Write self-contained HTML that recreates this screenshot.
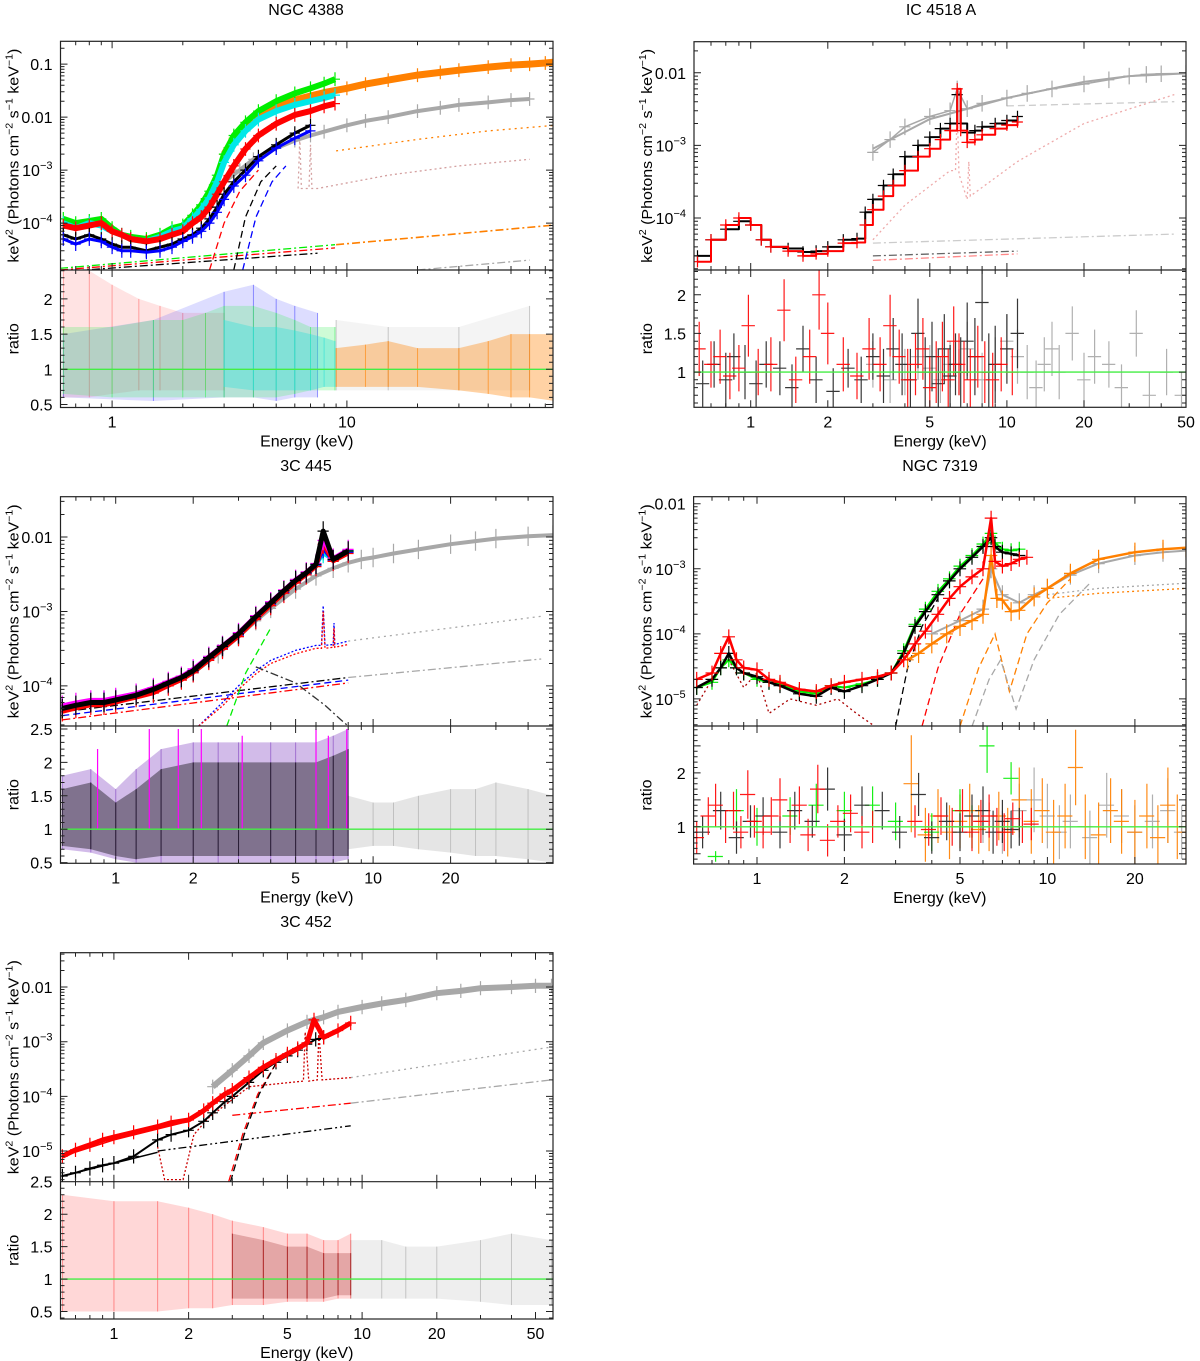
<!DOCTYPE html>
<html><head><meta charset="utf-8"><style>
html,body{margin:0;padding:0;background:#fff}
svg{display:block;font-family:"Liberation Sans",Arial,sans-serif}
</style></head><body>
<svg id="fig" width="1200" height="1361" viewBox="0 0 1200 1361" xmlns="http://www.w3.org/2000/svg">
<rect x="0" y="0" width="1200" height="1361" fill="#fff"/>
</svg>
<script>
// ===== NGC 4388 data =====
const n4388_E = [0.62,0.7,0.8,0.9,1.0,1.1,1.2,1.4,1.6,1.8,2.0,2.2,2.4,2.6,2.8,3.0,3.3,3.7,4.2,5,6,7,8,8.9];
const n4388_green = [1.2e-4,1e-4,1.1e-4,1.2e-4,8e-5,6e-5,5.5e-5,5e-5,6e-5,8e-5,9e-5,1.4e-4,2.2e-4,4e-4,8e-4,2e-3,4.5e-3,8e-3,1.3e-2,2e-2,2.8e-2,3.5e-2,4.3e-2,5.2e-2];
const n4388_cyan = [1e-4,8e-5,1e-4,9e-5,7e-5,6e-5,5e-5,4.5e-5,5.5e-5,7e-5,8e-5,1.2e-4,1.8e-4,3e-4,6e-4,1.4e-3,3e-3,5.5e-3,9e-3,1.3e-2,1.7e-2,2e-2,2.3e-2,2.6e-2];
const n4388_red = [9e-5,8e-5,9e-5,1e-4,7e-5,6e-5,5e-5,4.5e-5,5e-5,6e-5,7e-5,1e-4,1.3e-4,2e-4,3.5e-4,6e-4,1.2e-3,2.5e-3,4.5e-3,7.5e-3,1.1e-2,1.3e-2,1.6e-2,1.8e-2];
const n4388_black = [6e-5,5e-5,6e-5,5e-5,4e-5,3.5e-5,3.5e-5,3e-5,3.5e-5,4e-5,5e-5,6e-5,8e-5,1.2e-4,2e-4,3.5e-4,6e-4,1e-3,1.8e-3,3e-3,5e-3,7e-3];
const n4388_blue = [5e-5,4e-5,5e-5,4.5e-5,3.5e-5,3e-5,3e-5,2.8e-5,3e-5,3.5e-5,4.5e-5,5.5e-5,7e-5,1e-4,1.6e-4,2.8e-4,5e-4,8e-4,1.5e-3,2.6e-3,4e-3,5.5e-3];
const n4388_orE = [3,3.3,3.7,4.2,5,6,7,8,10,12,15,20,25,30,40,50,60,70,77];
const n4388_orF = [2e-3,4e-3,7e-3,1.1e-2,1.6e-2,2.1e-2,2.5e-2,2.9e-2,3.5e-2,4.2e-2,5e-2,6.2e-2,7e-2,7.7e-2,8.8e-2,9.6e-2,1.0e-1,1.05e-1,1.1e-1];
const n4388_grE = [3,3.5,4,5,6,7,8,10,12,15,20,25,30,40,50,60];
const n4388_grF = [6e-4,1e-3,1.6e-3,2.6e-3,3.6e-3,4.5e-3,5.3e-3,7e-3,8.5e-3,1e-2,1.3e-2,1.5e-2,1.7e-2,1.9e-2,2.1e-2,2.2e-2];
const n4388_mOrDotE = [9,20,40,77], n4388_mOrDotF = [2.3e-3,3.8e-3,5.5e-3,7e-3];
const n4388_mPkDotE = [6.2,6.3,6.4,6.5,6.9,7.0,7.1,7.5,15,30,60], n4388_mPkDotF = [4.5e-4,4e-3,4.5e-4,4.5e-4,4.5e-4,3e-3,4.5e-4,4.5e-4,8e-4,1.2e-3,1.6e-3];
const n4388_mOrDDE = [9,77], n4388_mOrDDF = [3.9e-5,9.2e-5];
const n4388_mGyDDE = [20,60], n4388_mGyDDF = [1.3e-5,2e-5];
const n4388_mRdDashE = [2.6,3,3.5,4.2], n4388_mRdDashF = [1.3e-5,1e-4,4e-4,1e-3];
const n4388_mBkDashE = [3.3,3.7,4.3,5], n4388_mBkDashF = [1.3e-5,1.3e-4,6e-4,1.2e-3];
const n4388_mBlDashE = [3.6,4.1,4.8,5.5], n4388_mBlDashF = [1.3e-5,1.3e-4,6e-4,1.2e-3];
const n4388_mGnDDE = [0.6,8.9], n4388_mGnDDF = [1.4e-5,3.9e-5];
const n4388_mRdDDE = [0.6,8.9], n4388_mRdDDF = [1.3e-5,3.4e-5];
const n4388_mBkDDE = [0.6,7.5], n4388_mBkDDF = [1.2e-5,2.7e-5];
const n4388_rRedE = [0.62,0.8,1.0,1.3,1.6,2.0,2.5,3.0], n4388_rRedHi = [2.4,2.4,2.2,2.0,1.9,1.8,1.8,1.8], n4388_rRedLo = [0.6,0.6,0.65,0.7,0.7,0.7,0.7,0.7];
const n4388_rGnE = [0.62,1,1.5,2,2.5,3,4,5,6,7,8.9], n4388_rGnHi = [1.6,1.6,1.7,1.7,1.8,1.9,1.9,1.8,1.7,1.6,1.6], n4388_rGnLo = [0.65,0.6,0.6,0.6,0.6,0.6,0.6,0.6,0.65,0.7,0.7];
const n4388_rBlE = [0.62,1.5,3,4,5,6,7.5], n4388_rBlHi = [1.5,1.7,2.1,2.2,2.0,1.9,1.8], n4388_rBlLo = [0.6,0.55,0.6,0.6,0.55,0.6,0.6];
const n4388_rCyE = [3,4,5,6,7,8,8.9], n4388_rCyHi = [1.7,1.6,1.6,1.55,1.5,1.45,1.4], n4388_rCyLo = [0.75,0.7,0.7,0.7,0.7,0.75,0.75];
const n4388_rOrE = [9,12,15,20,30,40,50,60,77], n4388_rOrHi = [1.3,1.35,1.4,1.3,1.3,1.4,1.5,1.5,1.5], n4388_rOrLo = [0.75,0.75,0.75,0.75,0.7,0.65,0.6,0.6,0.55];
const n4388_rGyE = [9,15,30,60], n4388_rGyHi = [1.7,1.6,1.6,1.9], n4388_rGyLo = [0.7,0.7,0.7,0.7];
const n4388_xTicks = [1,10], n4388_yTicks = [0.1,0.01,1e-3,1e-4], n4388_rTicks = [2,1.5,1,0.5];

// ===== IC 4518 A data =====
const ic_E = [0.62,0.7,0.8,0.9,1.0,1.1,1.2,1.4,1.6,1.8,2.0,2.3,2.6,2.8,3.0,3.3,3.6,4.0,4.5,5,5.5,6,6.4,6.6,7,7.5,8,9,10,11];
const ic_black = [3e-5,5e-5,7e-5,9e-5,8e-5,5e-5,4e-5,3.8e-5,3.4e-5,3.5e-5,4e-5,5e-5,5.2e-5,1.2e-4,1.8e-4,2.8e-4,4e-4,7e-4,1e-3,1.3e-3,1.7e-3,2e-3,5e-3,2e-3,1.5e-3,1.6e-3,1.8e-3,2e-3,2.2e-3,2.5e-3];
const ic_red = [2.5e-5,5e-5,8e-5,1e-4,8e-5,5e-5,4e-5,3.5e-5,3e-5,3.2e-5,3.5e-5,4.5e-5,4.6e-5,8e-5,1.3e-4,2e-4,2.8e-4,4.5e-4,7e-4,9e-4,1.2e-3,1.6e-3,6e-3,1.6e-3,1.1e-3,1.2e-3,1.4e-3,1.7e-3,1.9e-3,2.1e-3];
const ic_grE = [3,3.5,4,5,6,6.4,7,8,10,12,15,20,25,30,35,40,50];
const ic_grF = [8e-4,1.2e-3,1.8e-3,2.5e-3,3e-3,6e-3,3.2e-3,3.8e-3,4.5e-3,5.2e-3,6e-3,7e-3,8e-3,9e-3,9.5e-3,9.7e-3,9.8e-3];
const ic_mGyE = [3,5,10,20,30,50], ic_mGyF = [9e-4,2.3e-3,4.5e-3,7.5e-3,9e-3,9.8e-3];
const ic_mGyDashE = [10,45], ic_mGyDashF = [3.5e-3,4e-3];
const ic_mPkE = [3,4,6,6.3,6.4,6.5,7,7.1,7.2,11,20,45], ic_mPkF = [5e-5,1.5e-4,4.5e-4,4.5e-4,3e-3,4e-4,1.8e-4,6e-4,2e-4,6e-4,2e-3,5e-3];
const ic_mGyDDE = [3,45], ic_mGyDDF = [4.5e-5,6e-5];
const ic_mBkDDE = [3,11], ic_mBkDDF = [3e-5,3.5e-5];
const ic_mRdDDE = [3,11], ic_mRdDDF = [2.6e-5,3.2e-5];
const ic_rBkE = [0.65,0.72,0.8,0.86,0.95,1.05,1.15,1.3,1.45,1.6,1.8,2.1,2.4,2.7,3.0,3.3,3.6,3.9,4.2,4.5,4.8,5.1,5.4,5.7,6.0,6.3,6.6,7.0,7.5,8.0,8.5,9.0,10,11];
const ic_rBkR = [0.85,1.1,0.9,1.2,1.0,0.85,1.1,1.05,0.8,1.3,0.9,0.75,1.05,0.9,1.2,0.95,1.3,1.1,0.9,1.5,1.0,1.2,0.85,1.3,0.95,1.1,1.0,1.4,1.2,1.9,1.0,1.1,1.3,1.5];
const ic_rBkErr = [0.3,0.3,0.35,0.3,0.35,0.3,0.3,0.35,0.3,0.3,0.3,0.3,0.25,0.3,0.3,0.35,0.4,0.4,0.4,0.45,0.45,0.45,0.45,0.45,0.4,0.4,0.45,0.5,0.5,0.5,0.5,0.5,0.45,0.45];
const ic_rRdE = [0.63,0.7,0.76,0.83,0.9,0.98,1.07,1.2,1.35,1.5,1.7,1.85,2.0,2.3,2.6,2.9,3.2,3.5,3.8,4.1,4.4,4.7,5.0,5.3,5.6,5.9,6.2,6.5,6.8,7.2,7.7,8.2,8.8,9.5,10.5];
const ic_rRdR = [1.3,1.1,1.2,0.95,1.05,1.6,1.0,1.1,1.8,0.9,1.2,2.0,1.5,1.1,0.95,1.3,1.1,1.6,1.2,0.9,1.1,1.3,0.8,1.0,1.2,0.9,1.4,1.1,1.0,0.9,1.2,1.0,0.9,1.1,1.0];
const ic_rRdErr = [0.35,0.3,0.35,0.3,0.3,0.4,0.3,0.35,0.4,0.3,0.35,0.45,0.4,0.35,0.3,0.4,0.35,0.4,0.35,0.4,0.4,0.4,0.4,0.4,0.45,0.4,0.45,0.4,0.4,0.4,0.4,0.4,0.35,0.35,0.3];
const ic_rGyE = [3,3.5,4,4.5,5,5.5,6,6.5,7,8,9,10,11,12,13,14,15,16,18,20,22,25,28,32,36,42,48];
const ic_rGyR = [1.1,0.9,1.0,1.2,1.05,0.9,1.1,1.0,1.3,0.9,1.1,1.4,1.2,1.0,0.8,1.1,1.3,1.0,1.5,0.9,1.2,1.1,0.8,1.5,0.7,1.0,0.7];
const ic_rGyErr = [0.3,0.3,0.3,0.3,0.3,0.3,0.3,0.3,0.35,0.35,0.35,0.35,0.35,0.35,0.35,0.35,0.35,0.35,0.35,0.35,0.35,0.3,0.3,0.3,0.3,0.3,0.3];
const ic_xTicks = [1,2,5,10,20,50], ic_yTicks = [0.01,1e-3,1e-4], ic_rTicks = [2,1.5,1];

// ===== 3C 445 data =====
const c445_E = [0.62,0.7,0.8,0.9,1.0,1.2,1.4,1.6,1.8,2.0,2.3,2.6,3,3.5,4,4.5,5,5.5,6,6.4,7,8];
const c445_black = [5e-5,5.5e-5,6e-5,6e-5,6.5e-5,7.5e-5,9e-5,1.1e-4,1.3e-4,1.6e-4,2.4e-4,3.4e-4,5e-4,8.5e-4,1.3e-3,1.9e-3,2.6e-3,3.3e-3,4.3e-3,1.2e-2,5e-3,6.5e-3];
const c445_red = [4.5e-5,5e-5,5.5e-5,5.5e-5,6e-5,7e-5,8e-5,1e-4,1.2e-4,1.5e-4,2.2e-4,3.1e-4,4.6e-4,7.8e-4,1.2e-3,1.75e-3,2.4e-3,3.1e-3,4e-3,8e-3,4.7e-3,6e-3];
const c445_blue = [5e-5,5.2e-5,5.8e-5,6.2e-5,6.5e-5,7.2e-5,8.8e-5,1.05e-4,1.25e-4,1.55e-4,2.3e-4,3.2e-4,4.8e-4,8e-4,1.25e-3,1.8e-3,2.5e-3,3.2e-3,4.1e-3,7e-3,4.8e-3,6.2e-3];
const c445_magenta = [5.5e-5,6e-5,6.5e-5,6.5e-5,7e-5,8e-5,9.5e-5,1.15e-4,1.35e-4,1.7e-4,2.5e-4,3.5e-4,5.2e-4,8.8e-4,1.35e-3,1.95e-3,2.7e-3,3.4e-3,4.4e-3,9e-3,5.2e-3,6.8e-3];
const c445_cyan = [5.2e-5,5.6e-5,6.2e-5,6.4e-5,6.8e-5,7.8e-5,9.2e-5,1.1e-4,1.3e-4,1.65e-4,2.45e-4,3.4e-4,5.1e-4,8.6e-4,1.3e-3,1.9e-3,2.6e-3,3.3e-3,4.2e-3,6e-3,5e-3,6.6e-3];
const c445_green = [4.8e-5,5.4e-5,6e-5,6.1e-5,6.6e-5,7.6e-5,9e-5,1.08e-4,1.28e-4,1.6e-4,2.35e-4,3.3e-4,4.9e-4,8.3e-4,1.28e-3,1.85e-3,2.55e-3,3.25e-3,4.2e-3,6.5e-3,4.9e-3,6.4e-3];
const c445_grE = [2,2.5,3,3.5,4,5,6,7,8,9,10,12,15,20,25,30,40,50];
const c445_grF = [1.5e-4,2.7e-4,4.6e-4,7.5e-4,1.1e-3,2e-3,3e-3,3.8e-3,4.5e-3,5e-3,5.3e-3,6e-3,6.8e-3,8e-3,8.8e-3,9.5e-3,1.02e-2,1.06e-2];
const c445_mGyDotE = [8,45], c445_mGyDotF = [4e-4,8.6e-4];
const c445_mGyDDE = [8,45], c445_mGyDDF = [1.3e-4,2.3e-4];
const c445_mBkDDE = [0.62,8], c445_mBkDDF = [4.5e-5,1.3e-4];
const c445_mRdDDE = [0.62,8], c445_mRdDDF = [3.5e-5,1.1e-4];
const c445_mBlDashE = [0.62,8], c445_mBlDashF = [4e-5,1.2e-4];
const c445_mReflE = [2.1,2.6,3,3.5,4,5,6,6.3,6.4,6.5,7,7.05,7.1,8], c445_mReflF = [2.9e-5,6e-5,1e-4,1.6e-4,2.2e-4,3e-4,3.5e-4,3.5e-4,1.2e-3,3.5e-4,3.6e-4,7e-4,3.6e-4,4e-4];
const c445_mReflRdF = [2.9e-5,5.4e-5,9e-5,1.45e-4,2e-4,2.7e-4,3.2e-4,3.2e-4,1e-3,3.2e-4,3.3e-4,6e-4,3.3e-4,3.6e-4];
const c445_mDeclE = [3.5,5,6.5,7.5,8], c445_mDeclF = [1.8e-4,1.1e-4,5.5e-5,3.5e-5,2.9e-5];
const c445_mRiseE = [2.7,3.2,4], c445_mRiseF = [2.9e-5,1.5e-4,6e-4];
const c445_rColE = [0.62,0.8,1.0,1.2,1.5,2,2.5,3,4,5,6,7,8], c445_rColHi = [1.8,1.9,1.6,1.9,2.2,2.3,2.3,2.3,2.3,2.3,2.3,2.4,2.5], c445_rColLo = [0.7,0.65,0.55,0.5,0.5,0.5,0.5,0.5,0.5,0.5,0.5,0.5,0.55];
const c445_rBkE = [0.62,0.8,1.0,1.2,1.5,2,2.5,3,4,5,6,7,8], c445_rBkHi = [1.6,1.7,1.4,1.6,1.9,2.0,2.0,2.0,2.0,2.0,2.0,2.1,2.2], c445_rBkLo = [0.75,0.7,0.6,0.55,0.6,0.6,0.6,0.6,0.6,0.6,0.6,0.6,0.6];
const c445_rGyE = [8,10,12,15,20,25,30,40,50], c445_rGyHi = [1.5,1.4,1.4,1.5,1.6,1.6,1.7,1.6,1.5], c445_rGyLo = [0.7,0.75,0.75,0.7,0.65,0.6,0.6,0.55,0.5];
const c445_rSpikeE = [0.85,1.35,1.75,2.15,3.1,6,6.7,7.9], c445_rSpikeHi = [2.2,2.5,2.5,2.5,2.4,2.5,2.4,2.5];
const c445_xTicks = [1,2,5,10,20], c445_yTicks = [0.01,1e-3,1e-4], c445_rTicks = [2.5,2,1.5,1,0.5];

// ===== NGC 7319 data =====
const n7319_E = [0.62,0.7,0.75,0.8,0.85,0.9,1.0,1.1,1.2,1.4,1.6,1.8,2.0,2.3,2.6,2.9,3.2,3.5,3.8,4.2,4.6,5,5.5,6,6.4,6.6,7,7.5,8,8.5];
const n7319_red = [2e-5,2.5e-5,5e-5,9e-5,4e-5,3e-5,2.8e-5,2e-5,1.8e-5,1.4e-5,1.3e-5,1.6e-5,1.8e-5,2e-5,2.2e-5,2.5e-5,4e-5,7e-5,1.1e-4,2e-4,3.5e-4,5.3e-4,7.5e-4,1e-3,6e-3,1.3e-3,1.1e-3,1.2e-3,1.4e-3,1.5e-3];
const n7319_black = [1.5e-5,2e-5,3e-5,5e-5,3e-5,2.5e-5,2.2e-5,1.8e-5,1.6e-5,1.2e-5,1.1e-5,1.5e-5,1.3e-5,1.6e-5,2e-5,2.5e-5,5e-5,1.3e-4,2.2e-4,4e-4,6.5e-4,1e-3,1.5e-3,2.2e-3,3e-3,2.2e-3,1.8e-3,1.7e-3,1.6e-3];
const n7319_green = [1.5e-5,1.8e-5,3e-5,4e-5,3e-5,2.5e-5,2e-5,1.8e-5,1.7e-5,1.3e-5,1.2e-5,1.6e-5,1.5e-5,1.7e-5,2e-5,2.5e-5,5.5e-5,1.4e-4,2.4e-4,4.5e-4,7e-4,1.1e-3,1.6e-3,2.4e-3,3.5e-3,2.5e-3,2e-3,1.9e-3,2e-3];
const n7319_orE = [3.3,3.6,4,4.5,5,5.5,6,6.4,6.7,7,7.5,8,9,10,12,15,20,25,30];
const n7319_orF = [4e-5,5e-5,7e-5,1e-4,1.3e-4,1.6e-4,2e-4,1.6e-3,3.5e-4,3.3e-4,2.2e-4,2.3e-4,3.7e-4,5e-4,8.5e-4,1.4e-3,1.8e-3,2e-3,2.1e-3];
const n7319_grE = [4,5,6,6.4,7,8,9,10,12,15,20,25,30];
const n7319_grF = [1e-4,1.6e-4,2.4e-4,1e-3,4e-4,3e-4,4e-4,5e-4,8e-4,1.2e-3,1.6e-3,1.8e-3,1.9e-3];
const n7319_mBkDashE = [3,3.3,3.7,4.2], n7319_mBkDashF = [3.8e-6,3e-5,1.3e-4,3.5e-4];
const n7319_mRdDashE = [3.7,4.2,5,6], n7319_mRdDashF = [3.8e-6,3e-5,2e-4,7e-4];
const n7319_mOrDashE = [5,5.8,6.6,7.4,8.5,10,12], n7319_mOrDashF = [3.8e-6,3e-5,1e-4,1.3e-5,1e-4,3e-4,7e-4];
const n7319_mGyDashE = [5.5,6.3,6.9,7.8,9,11,14], n7319_mGyDashF = [3.8e-6,2e-5,4e-5,7e-6,4e-5,2e-4,6e-4];
const n7319_mOrDotE = [10,15,30], n7319_mOrDotF = [3.5e-4,4.2e-4,5e-4];
const n7319_mGyDotE = [10,15,30], n7319_mGyDotF = [4e-4,5e-4,6e-4];
const n7319_mSoftE = [0.62,0.7,0.8,0.9,1.0,1.1,1.3,1.6,1.9,2.2,2.5], n7319_mSoftF = [8e-6,2e-5,4e-5,1.5e-5,2.5e-5,6e-6,1e-5,8e-6,1e-5,6e-6,4e-6];
const n7319_rRdE = [0.62,0.68,0.72,0.78,0.83,0.88,0.93,0.98,1.05,1.12,1.2,1.3,1.4,1.5,1.62,1.75,1.9,2.1,2.3,2.5,3.5,3.9,4.3,4.7,5.1,5.5,5.9,6.3,6.7,7.1,7.6,8.2,8.8];
const n7319_rRdR = [0.8,1.2,1.4,1.0,1.3,0.9,1.6,1.1,0.9,1.2,1.5,1.0,1.4,0.85,1.7,0.75,1.1,1.25,0.9,1.0,1.1,0.95,1.2,1.0,1.3,0.9,1.1,1.2,1.0,0.9,1.15,1.0,1.05];
const n7319_rRdErr = [0.3,0.35,0.4,0.3,0.35,0.3,0.45,0.3,0.3,0.35,0.4,0.3,0.35,0.3,0.45,0.3,0.3,0.35,0.3,0.3,0.3,0.3,0.35,0.35,0.4,0.35,0.4,0.4,0.35,0.35,0.3,0.3,0.3];
const n7319_rBkE = [0.65,0.75,0.85,0.95,1.05,1.2,1.35,1.55,1.75,2.0,2.3,2.7,3.1,3.6,4.0,4.5,5,5.5,6,6.5,7,7.5,8];
const n7319_rBkR = [0.9,1.3,0.8,1.1,1.2,0.9,1.3,1.1,1.7,0.85,1.4,1.3,0.9,1.6,0.8,1.1,0.9,1.2,1.3,0.9,1.1,0.95,1.0];
const n7319_rBkErr = [0.3,0.35,0.3,0.3,0.35,0.3,0.35,0.3,0.4,0.3,0.35,0.35,0.3,0.4,0.3,0.35,0.35,0.4,0.45,0.4,0.4,0.35,0.35];
const n7319_rGnE = [0.72,0.85,1.0,1.3,1.6,2.0,2.5,3.0,4,5,5.5,6.2,7.5];
const n7319_rGnR = [0.45,1.3,1.0,1.2,1.4,1.3,1.4,1.1,0.9,1.3,1.0,2.5,1.9];
const n7319_rGnErr = [0.1,0.4,0.35,0.35,0.4,0.35,0.35,0.35,0.35,0.4,0.4,0.5,0.3];
const n7319_rOrE = [3.4,3.8,4.2,4.6,5,5.4,5.8,6.3,6.8,7.3,8,8.8,9.6,10.5,11.5,12.5,13.5,15,16.5,18,20,22,24,26,28,30];
const n7319_rOrR = [1.8,0.85,1.2,0.9,1.1,1.3,0.95,1.0,1.2,0.9,1.5,1.1,1.3,0.9,1.2,2.1,1.0,0.85,1.3,1.1,0.9,1.2,0.8,1.4,1.0,0.9];
const n7319_rOrErr = [0.9,0.5,0.5,0.5,0.5,0.5,0.45,0.45,0.45,0.45,0.6,0.6,0.6,0.6,0.6,0.7,0.6,0.6,0.6,0.6,0.6,0.6,0.6,0.7,0.6,0.6];
const n7319_rGyE = [6,7,8,9,10,11,12,14,16,18,20,23,26,29];
const n7319_rGyR = [1.1,0.9,1.3,1.5,1.2,0.9,1.1,0.8,1.4,1.2,0.9,1.1,1.3,0.9];
const n7319_rGyErr = [0.4,0.4,0.5,0.6,0.6,0.5,0.5,0.5,0.6,0.5,0.5,0.5,0.6,0.5];
const n7319_xTicks = [1,2,5,10,20], n7319_yTicks = [0.01,1e-3,1e-4,1e-5], n7319_rTicks = [2,1];

// ===== 3C 452 data =====
const c452_rdE = [0.62,0.7,0.8,0.9,1.0,1.2,1.5,1.7,2.0,2.3,2.5,2.8,3,3.5,4,4.5,5,5.5,6,6.4,7,8,9];
const c452_rdF = [8e-6,1.05e-5,1.3e-5,1.6e-5,1.8e-5,2.2e-5,2.8e-5,3.3e-5,3.7e-5,5.5e-5,7.5e-5,1.1e-4,1.3e-4,2.2e-4,3.4e-4,4.6e-4,6e-4,7.5e-4,9.5e-4,2.5e-3,1.2e-3,1.6e-3,2.2e-3];
const c452_bkE = [0.62,0.7,0.8,0.9,1.0,1.2,1.5,1.7,2.0,2.3,2.5,2.8,3,3.5,4,4.5,5,5.5,6,6.5,7];
const c452_bkF = [3.5e-6,4e-6,4.8e-6,5.5e-6,6e-6,8e-6,1.6e-5,2e-5,2.4e-5,3.5e-5,5e-5,8e-5,1e-4,1.8e-4,3e-4,4.2e-4,5.5e-4,7e-4,9e-4,1.1e-3,1.2e-3];
const c452_grE = [2.5,3,3.5,4,5,6,7,8,10,12,15,20,25,30,40,50,58];
const c452_grF = [1.5e-4,3e-4,5.5e-4,9.5e-4,1.6e-3,2.3e-3,2.8e-3,3.5e-3,4.3e-3,5e-3,5.8e-3,7.7e-3,8.5e-3,9.5e-3,1e-2,1.05e-2,1.05e-2];
const c452_mGyDotE = [9,58], c452_mGyDotF = [2.2e-4,8e-4];
const c452_mRdDotE = [1.5,1.6,1.9,2.1,2.4,3.5,5.8,5.9,6.1,6.6,6.7,6.9,9], c452_mRdDotF = [1.2e-5,3e-6,3e-6,2e-5,4e-5,1.5e-4,1.9e-4,1.5e-3,1.9e-4,2e-4,1.5e-3,2e-4,2.2e-4];
const c452_mGyDDE = [9,58], c452_mGyDDF = [7.5e-5,2e-4];
const c452_mRdDDE = [3,9], c452_mRdDDF = [4.5e-5,7.5e-5];
const c452_mBkDDE = [1.5,9], c452_mBkDDF = [1e-5,2.9e-5];
const c452_mRdDashE = [2.9,3.3,3.8,4.5], c452_mRdDashF = [2.75e-6,2e-5,1.1e-4,4e-4];
const c452_mBkDashE = [2.95,3.35,3.85,4.5], c452_mBkDashF = [2.75e-6,2e-5,1.1e-4,4e-4];
const c452_mBkLowE = [0.62,1,1.5], c452_mBkLowF = [3.5e-6,6e-6,9.5e-6];
const c452_mRdLowE = [0.62,1,2,3], c452_mRdLowF = [8e-6,1.6e-5,3.5e-5,1.3e-4];
const c452_rRdE = [0.62,1,1.5,2,2.5,3,4,5,6,7,8,9], c452_rRdHi = [2.3,2.2,2.2,2.1,2.0,1.9,1.8,1.7,1.7,1.6,1.6,1.7], c452_rRdLo = [0.5,0.5,0.5,0.55,0.55,0.6,0.6,0.65,0.65,0.65,0.7,0.7];
const c452_rBkE = [3,4,5,6,7,8,9], c452_rBkHi = [1.7,1.6,1.5,1.5,1.4,1.4,1.4], c452_rBkLo = [0.7,0.7,0.7,0.7,0.7,0.75,0.75];
const c452_rGyE = [9,12,15,20,30,40,58], c452_rGyHi = [1.6,1.6,1.5,1.5,1.6,1.7,1.6], c452_rGyLo = [0.7,0.7,0.7,0.7,0.65,0.6,0.6];
const c452_xTicks = [1,2,5,10,20,50], c452_yTicks = [0.01,1e-3,1e-4,1e-5], c452_rTicks = [2.5,2,1.5,1,0.5];

// ===== rendering =====
const NS = 'http://www.w3.org/2000/svg';
const svg = document.getElementById('fig');
function el(tag, attrs, parent) {
  const e = document.createElementNS(NS, tag);
  for (const k in attrs) e.setAttribute(k, attrs[k]);
  parent.appendChild(e);
  return e;
}
const C = {green:'#00ee00', cyan:'#00e8e8', red:'#ff0000', blue:'#0000ff', black:'#000000', orange:'#ff8000', gray:'#a8a8a8', magenta:'#ff00ff', pink:'#d4a0a0'};
let clipId = 0;

function panel(cfg) {
  const g = el('g', {}, svg);
  
  
  const lx0 = Math.log10(cfg.xmin), lx1 = Math.log10(cfg.xmax);
  const ly0 = Math.log10(cfg.ymin), ly1 = Math.log10(cfg.ymax);
  const xs = e => cfg.L + (Math.log10(e) - lx0) / (lx1 - lx0) * (cfg.R - cfg.L);
  const ys = f => cfg.M - (Math.log10(f) - ly0) / (ly1 - ly0) * (cfg.M - cfg.T);
  const rs = r => cfg.B - (r - cfg.rmin) / (cfg.rmax - cfg.rmin) * (cfg.B - cfg.M);
  const defs = el('defs', {}, g);
  const c1 = 'c' + (clipId++), c2 = 'c' + (clipId++);
  el('rect', {x:cfg.L, y:cfg.T, width:cfg.R-cfg.L, height:cfg.M-cfg.T}, el('clipPath', {id:c1}, defs));
  el('rect', {x:cfg.L, y:cfg.M, width:cfg.R-cfg.L, height:cfg.B-cfg.M}, el('clipPath', {id:c2}, defs));
  const top = el('g', {'clip-path':'url(#'+c1+')'}, g);
  
  
  const bot = el('g', {'clip-path':'url(#'+c2+')'}, g);
  
  

  (cfg.models || []).forEach(m => {
    const pts = m.E.map((e, i) => xs(e).toFixed(1) + ',' + ys(m.F[i]).toFixed(1)).join(' ');
    const p = el('polyline', {points:pts, fill:'none', stroke:m.color, 'stroke-width':m.w || 1.3, 'stroke-dasharray':m.dash || 'none', opacity:m.op || 1}, top);
    
    
  });
  (cfg.spectra || []).forEach(s => {
    const n = s.F.length;
    const sg = el('g', {stroke:s.color, fill:'none', opacity:s.op || 1}, top);
    
    
    let pts = '';
    for (let i = 0; i < n; i++) {
      const x = xs(s.E[i]), y = ys(s.F[i]);
      if (s.step && i > 0) pts += ' ' + x.toFixed(1) + ',' + ys(s.F[i-1]).toFixed(1);
      pts += ' ' + x.toFixed(1) + ',' + y.toFixed(1);
    }
    const pl = el('polyline', {points:pts.trim(), 'stroke-width':s.w || 2, 'stroke-linejoin':'round'}, sg);
    
    
    for (let i = 0; i < n; i++) {
      const e = s.E[i], f = s.F[i], x = xs(e), y = ys(f);
      const d = 'M' + xs(e*0.95).toFixed(1) + ' ' + y.toFixed(1) + 'H' + xs(e*1.05).toFixed(1) +
        'M' + x.toFixed(1) + ' ' + ys(f*(s.ev || 1.35)).toFixed(1) + 'V' + ys(f/(s.ev || 1.35)).toFixed(1);
      const p = el('path', {d:d, 'stroke-width':1.2}, sg);
      
      
    }
  });
  (cfg.bands || []).forEach(b => {
    const up = b.E.map((e, i) => xs(e).toFixed(1) + ',' + rs(b.hi[i]).toFixed(1));
    const dn = b.E.map((e, i) => xs(e).toFixed(1) + ',' + rs(b.lo[i]).toFixed(1)).reverse();
    const pg = el('polygon', {points:up.concat(dn).join(' '), fill:b.color, 'fill-opacity':b.op * 0.65, stroke:'none'}, bot);
    
    
    b.E.forEach((e, i) => {
      const l = el('line', {x1:xs(e), x2:xs(e), y1:rs(b.hi[i]), y2:rs(b.lo[i]), stroke:b.color, 'stroke-width':1, opacity:0.6}, bot);
      
      
    });
  });
  (cfg.spikes || []).forEach(sp => {
    sp.E.forEach((e, i) => {
      const l = el('line', {x1:xs(e), x2:xs(e), y1:rs(sp.hi[i]), y2:rs(1), stroke:sp.color, 'stroke-width':1.2}, bot);
      
      
    });
  });
  (cfg.rpts || []).forEach(r => {
    const rg = el('g', {stroke:r.color, 'stroke-width':1.2, opacity:r.op || 0.9}, bot);
    
    
    r.E.forEach((e, i) => {
      const x = xs(e), y = rs(r.R[i]);
      const d = 'M' + xs(e*0.94).toFixed(1) + ' ' + y.toFixed(1) + 'H' + xs(e*1.06).toFixed(1) +
        'M' + x.toFixed(1) + ' ' + rs(r.R[i] + r.Err[i]).toFixed(1) + 'V' + rs(r.R[i] - r.Err[i]).toFixed(1);
      const p = el('path', {d:d}, rg);
      
      
    });
  });
  const ul = el('line', {x1:cfg.L, x2:cfg.R, y1:rs(1), y2:rs(1), stroke:'#44ee44', 'stroke-width':1.4}, g);
  
  

  const fr = el('g', {fill:'none', stroke:'#222', 'stroke-width':1.2}, g);
  
  
  el('rect', {x:cfg.L, y:cfg.T, width:cfg.R-cfg.L, height:cfg.B-cfg.T}, fr);
  el('line', {x1:cfg.L, x2:cfg.R, y1:cfg.M, y2:cfg.M}, fr);

  let td = '';
  for (let d = Math.floor(lx0); d <= Math.ceil(lx1); d++) {
    for (let k = 1; k <= 9; k++) {
      const e = k * Math.pow(10, d);
      if (e < cfg.xmin || e > cfg.xmax) continue;
      const x = xs(e).toFixed(1), len = (k === 1 || cfg.xTicks.indexOf(e) >= 0) ? 7 : 4;
      td += 'M'+x+' '+cfg.T+'v'+len+'M'+x+' '+cfg.M+'v-'+len+'M'+x+' '+cfg.M+'v'+len+'M'+x+' '+cfg.B+'v-'+len;
    }
  }
  for (let d = Math.floor(ly0); d <= Math.ceil(ly1); d++) {
    for (let k = 1; k <= 9; k++) {
      const f = k * Math.pow(10, d);
      if (f < cfg.ymin || f > cfg.ymax) continue;
      const y = ys(f).toFixed(1), len = k === 1 ? 7 : 4;
      td += 'M'+cfg.L+' '+y+'h'+len+'M'+cfg.R+' '+y+'h-'+len;
    }
  }
  for (let r = Math.ceil(cfg.rmin*10)/10; r <= cfg.rmax; r += 0.1) {
    const rr = Math.round(r*10)/10;
    const y = rs(rr).toFixed(1), len = (Math.abs(rr*2 - Math.round(rr*2)) < 1e-6) ? 7 : 4;
    td += 'M'+cfg.L+' '+y+'h'+len+'M'+cfg.R+' '+y+'h-'+len;
  }
  const tp = el('path', {d:td, stroke:'#222', 'stroke-width':1, fill:'none'}, g);
  
  

  const txt = (x, y, s, opts, name) => {
    const t = el('text', Object.assign({x:x, y:y, 'font-size':16, fill:'#000'}, opts || {}), g);
    t.textContent = s;
    
    
    return t;
  };
  cfg.xTicks.forEach(v => txt(xs(v), cfg.B + 20, String(v), {'text-anchor':'middle'}, 'x-tick-label'));
  cfg.yTicks.forEach(v => {
    const t = txt(cfg.L - 8, ys(v) + 6, '', {'text-anchor':'end'}, 'y-tick-label');
    if (v >= 0.01) { t.textContent = String(v); }
    else {
      const exp = Math.round(Math.log10(v));
      const a = el('tspan', {}, t); a.textContent = '10';
      const b = el('tspan', {dy:-7, 'font-size':11}, t); b.textContent = '\u2212' + (-exp);
    }
  });
  cfg.rTicks.forEach(v => txt(cfg.L - 8, rs(v) + 6, String(v), {'text-anchor':'end'}, 'ratio-tick-label'));
  txt((cfg.L + cfg.R) / 2, cfg.B + 39, 'Energy (keV)', {'text-anchor':'middle'}, 'x-axis-title');
  txt(cfg.titleX, cfg.titleY, cfg.title, {'text-anchor':'middle'}, 'panel-title');
  const yc = (cfg.T + cfg.M) / 2, yx = cfg.L - 42;
  const tl = 214;
  const yt = el('text', {x:yx - tl/2, y:yc, 'font-size':15, 'text-anchor':'start', textLength:tl, lengthAdjust:'spacingAndGlyphs', transform:'rotate(-90 '+yx+' '+yc+')'}, g);
  yt.setAttribute('x', yx - tl/2);
  
  
  const parts = [['keV',0],['2',1],[' (Photons cm',0],['\u22122',1],[' s',0],['\u22121',1],[' keV',0],['\u22121',1],[')',0]];
  let up = false;
  parts.forEach(p => {
    const attrs = {};
    if (p[1] && !up) { attrs.dy = -6; up = true; }
    else if (!p[1] && up) { attrs.dy = 6; up = false; }
    if (p[1]) attrs['font-size'] = 10;
    const ts = el('tspan', attrs, yt);
    ts.textContent = p[0];
  });
  const rc = (cfg.M + cfg.B) / 2;
  const rt = el('text', {x:yx, y:rc, 'font-size':16, 'text-anchor':'middle', transform:'rotate(-90 '+yx+' '+rc+')'}, g);
  rt.textContent = 'ratio';
  
  
}

panel({name:'panel-ngc4388', title:'NGC 4388', titleX:306, titleY:15,
  L:60.5, R:553, T:41.3, M:270, B:407.5, xmin:0.603, xmax:75.5, ymin:1.3e-5, ymax:0.27, rmin:0.457, rmax:2.41,
  xTicks:n4388_xTicks, yTicks:n4388_yTicks, rTicks:n4388_rTicks,
  models:[
    {E:n4388_mGnDDE, F:n4388_mGnDDF, color:C.green, dash:'8 3 2 3'},
    {E:n4388_mRdDDE, F:n4388_mRdDDF, color:C.red, dash:'8 3 2 3'},
    {E:n4388_mBkDDE, F:n4388_mBkDDF, color:C.black, dash:'8 3 2 3'},
    {E:n4388_mOrDDE, F:n4388_mOrDDF, color:C.orange, dash:'8 3 2 3', w:1.6},
    {E:n4388_mGyDDE, F:n4388_mGyDDF, color:C.gray, dash:'8 3 2 3'},
    {E:n4388_mRdDashE, F:n4388_mRdDashF, color:C.red, dash:'7 4'},
    {E:n4388_mBkDashE, F:n4388_mBkDashF, color:C.black, dash:'7 4'},
    {E:n4388_mBlDashE, F:n4388_mBlDashF, color:C.blue, dash:'7 4'},
    {E:n4388_mOrDotE, F:n4388_mOrDotF, color:C.orange, dash:'2 4'},
    {E:n4388_mPkDotE, F:n4388_mPkDotF, color:C.pink, dash:'2 3'}
  ],
  spectra:[
    {name:'gray-spectrum', E:n4388_grE, F:n4388_grF, color:C.gray, w:4},
    {name:'orange-spectrum', E:n4388_orE, F:n4388_orF, color:C.orange, w:7},
    {name:'green-spectrum', E:n4388_E, F:n4388_green, color:C.green, w:6},
    {name:'cyan-spectrum', E:n4388_E, F:n4388_cyan, color:C.cyan, w:6},
    {name:'red-spectrum', E:n4388_E, F:n4388_red, color:C.red, w:6},
    {name:'black-spectrum', E:n4388_E, F:n4388_black, color:C.black, w:3},
    {name:'blue-spectrum', E:n4388_E, F:n4388_blue, color:C.blue, w:3}
  ],
  bands:[
    {E:n4388_rGyE, hi:n4388_rGyHi, lo:n4388_rGyLo, color:C.gray, op:0.2},
    {E:n4388_rRedE, hi:n4388_rRedHi, lo:n4388_rRedLo, color:'#ff7070', op:0.3},
    {E:n4388_rBlE, hi:n4388_rBlHi, lo:n4388_rBlLo, color:'#5050ff', op:0.3},
    {E:n4388_rGnE, hi:n4388_rGnHi, lo:n4388_rGnLo, color:'#40ee60', op:0.4},
    {E:n4388_rCyE, hi:n4388_rCyHi, lo:n4388_rCyLo, color:'#30e0d8', op:0.6},
    {E:n4388_rOrE, hi:n4388_rOrHi, lo:n4388_rOrLo, color:C.orange, op:0.55}
  ]
});

panel({name:'panel-ic4518a', title:'IC 4518 A', titleX:941, titleY:15,
  L:694, R:1186, T:41.7, M:270, B:407.3, xmin:0.601, xmax:50, ymin:1.92e-5, ymax:0.0268, rmin:0.545, rmax:2.32,
  xTicks:ic_xTicks, yTicks:ic_yTicks, rTicks:ic_rTicks,
  models:[
    {E:ic_mGyDDE, F:ic_mGyDDF, color:'#ccc', dash:'8 3 2 3'},
    {E:ic_mBkDDE, F:ic_mBkDDF, color:'#666', dash:'8 3 2 3'},
    {E:ic_mRdDDE, F:ic_mRdDDF, color:'#f88', dash:'8 3 2 3'},
    {E:ic_mPkE, F:ic_mPkF, color:'#eaa', dash:'2 3'},
    {E:ic_mGyDashE, F:ic_mGyDashF, color:'#ccc', dash:'7 4'},
    {E:ic_mGyE, F:ic_mGyF, color:C.gray, w:2}
  ],
  spectra:[
    {name:'gray-spectrum', E:ic_grE, F:ic_grF, color:C.gray, w:1.5, ev:1.3},
    {name:'black-spectrum', E:ic_E, F:ic_black, color:C.black, w:2, step:true, ev:1.2},
    {name:'red-spectrum', E:ic_E, F:ic_red, color:C.red, w:2, step:true, ev:1.2}
  ],
  rpts:[
    {name:'gray-ratio', E:ic_rGyE, R:ic_rGyR, Err:ic_rGyErr, color:C.gray},
    {name:'black-ratio', E:ic_rBkE, R:ic_rBkR, Err:ic_rBkErr, color:'#222'},
    {name:'red-ratio', E:ic_rRdE, R:ic_rRdR, Err:ic_rRdErr, color:C.red}
  ]
});

panel({name:'panel-3c445', title:'3C 445', titleX:306, titleY:471,
  L:60.5, R:553, T:496.7, M:726, B:863.3, xmin:0.61, xmax:50, ymin:2.9e-5, ymax:0.0347, rmin:0.49, rmax:2.545,
  xTicks:c445_xTicks, yTicks:c445_yTicks, rTicks:c445_rTicks,
  models:[
    {E:c445_mGyDotE, F:c445_mGyDotF, color:C.gray, dash:'2 4'},
    {E:c445_mGyDDE, F:c445_mGyDDF, color:C.gray, dash:'8 3 2 3'},
    {E:c445_mBkDDE, F:c445_mBkDDF, color:C.black, dash:'8 3 2 3'},
    {E:c445_mRdDDE, F:c445_mRdDDF, color:C.red, dash:'8 3 2 3'},
    {E:c445_mBlDashE, F:c445_mBlDashF, color:C.blue, dash:'7 4'},
    {E:c445_mReflE, F:c445_mReflF, color:C.blue, dash:'2 2'},
    {E:c445_mReflE, F:c445_mReflRdF, color:C.red, dash:'2 2'},
    {E:c445_mDeclE, F:c445_mDeclF, color:'#333', dash:'8 3 2 3'},
    {E:c445_mRiseE, F:c445_mRiseF, color:C.green, dash:'7 4'}
  ],
  spectra:[
    {name:'gray-spectrum', E:c445_grE, F:c445_grF, color:C.gray, w:4},
    {name:'green-spectrum', E:c445_E, F:c445_green, color:C.green, w:4},
    {name:'cyan-spectrum', E:c445_E, F:c445_cyan, color:C.cyan, w:4},
    {name:'blue-spectrum', E:c445_E, F:c445_blue, color:C.blue, w:4},
    {name:'red-spectrum', E:c445_E, F:c445_red, color:C.red, w:4},
    {name:'magenta-spectrum', E:c445_E, F:c445_magenta, color:C.magenta, w:4},
    {name:'black-spectrum', E:c445_E, F:c445_black, color:C.black, w:5}
  ],
  bands:[
    {E:c445_rGyE, hi:c445_rGyHi, lo:c445_rGyLo, color:C.gray, op:0.45},
    {E:c445_rColE, hi:c445_rColHi, lo:c445_rColLo, color:'#8040c0', op:0.55},
    {E:c445_rBkE, hi:c445_rBkHi, lo:c445_rBkLo, color:'#000', op:0.6}
  ],
  spikes:[{E:c445_rSpikeE, hi:c445_rSpikeHi, color:C.magenta}]
});

panel({name:'panel-ngc7319', title:'NGC 7319', titleX:940, titleY:471,
  L:693.6, R:1186, T:496.7, M:726, B:864, xmin:0.605, xmax:30, ymin:3.84e-6, ymax:0.0128, rmin:0.31, rmax:2.87,
  xTicks:n7319_xTicks, yTicks:n7319_yTicks, rTicks:n7319_rTicks,
  models:[
    {E:n7319_mSoftE, F:n7319_mSoftF, color:'#a00', dash:'2 3'},
    {E:n7319_mBkDashE, F:n7319_mBkDashF, color:C.black, dash:'7 4'},
    {E:n7319_mRdDashE, F:n7319_mRdDashF, color:C.red, dash:'7 4'},
    {E:n7319_mOrDashE, F:n7319_mOrDashF, color:C.orange, dash:'7 4'},
    {E:n7319_mGyDashE, F:n7319_mGyDashF, color:C.gray, dash:'7 4'},
    {E:n7319_mOrDotE, F:n7319_mOrDotF, color:C.orange, dash:'2 3'},
    {E:n7319_mGyDotE, F:n7319_mGyDotF, color:C.gray, dash:'2 3'}
  ],
  spectra:[
    {name:'gray-spectrum', E:n7319_grE, F:n7319_grF, color:C.gray, w:2, ev:1.4},
    {name:'orange-spectrum', E:n7319_orE, F:n7319_orF, color:C.orange, w:2.5, ev:1.4},
    {name:'green-spectrum', E:n7319_E, F:n7319_green, color:C.green, w:2, ev:1.3},
    {name:'black-spectrum', E:n7319_E, F:n7319_black, color:C.black, w:2.5, ev:1.3},
    {name:'red-spectrum', E:n7319_E, F:n7319_red, color:C.red, w:2.5, ev:1.3}
  ],
  rpts:[
    {name:'gray-ratio', E:n7319_rGyE, R:n7319_rGyR, Err:n7319_rGyErr, color:C.gray},
    {name:'orange-ratio', E:n7319_rOrE, R:n7319_rOrR, Err:n7319_rOrErr, color:C.orange},
    {name:'green-ratio', E:n7319_rGnE, R:n7319_rGnR, Err:n7319_rGnErr, color:C.green},
    {name:'black-ratio', E:n7319_rBkE, R:n7319_rBkR, Err:n7319_rBkErr, color:'#222'},
    {name:'red-ratio', E:n7319_rRdE, R:n7319_rRdR, Err:n7319_rRdErr, color:C.red}
  ]
});

panel({name:'panel-3c452', title:'3C 452', titleX:306, titleY:927,
  L:60.5, R:553, T:952.7, M:1181.7, B:1319, xmin:0.609, xmax:58.8, ymin:2.75e-6, ymax:0.0424, rmin:0.385, rmax:2.5,
  xTicks:c452_xTicks, yTicks:c452_yTicks, rTicks:c452_rTicks,
  models:[
    {E:c452_mGyDotE, F:c452_mGyDotF, color:C.gray, dash:'2 4'},
    {E:c452_mRdDotE, F:c452_mRdDotF, color:'#c00', dash:'2 2'},
    {E:c452_mGyDDE, F:c452_mGyDDF, color:C.gray, dash:'8 3 2 3'},
    {E:c452_mRdDDE, F:c452_mRdDDF, color:C.red, dash:'8 3 2 3'},
    {E:c452_mBkDDE, F:c452_mBkDDF, color:C.black, dash:'8 3 2 3 2 3'},
    {E:c452_mRdDashE, F:c452_mRdDashF, color:C.red, dash:'7 4'},
    {E:c452_mBkDashE, F:c452_mBkDashF, color:C.black, dash:'7 4'},
    {E:c452_mBkLowE, F:c452_mBkLowF, color:C.black, w:1.5},
    {E:c452_mRdLowE, F:c452_mRdLowF, color:C.red, w:1.5}
  ],
  spectra:[
    {name:'gray-spectrum', E:c452_grE, F:c452_grF, color:C.gray, w:6},
    {name:'black-spectrum', E:c452_bkE, F:c452_bkF, color:C.black, w:2},
    {name:'red-spectrum', E:c452_rdE, F:c452_rdF, color:C.red, w:5}
  ],
  bands:[
    {E:c452_rGyE, hi:c452_rGyHi, lo:c452_rGyLo, color:C.gray, op:0.3},
    {E:c452_rRdE, hi:c452_rRdHi, lo:c452_rRdLo, color:'#ff5050', op:0.35},
    {E:c452_rBkE, hi:c452_rBkHi, lo:c452_rBkLo, color:'#800', op:0.35}
  ]
});
</script>
</body></html>
